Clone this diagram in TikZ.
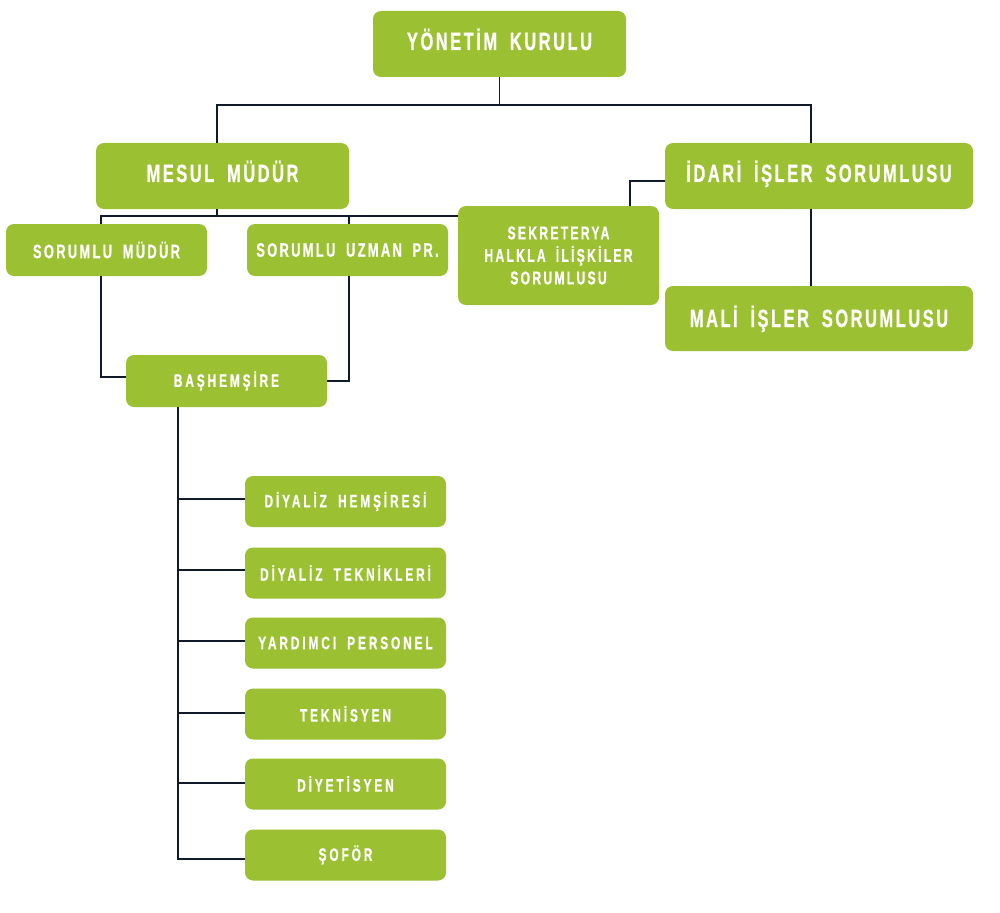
\documentclass[tikz,border=0pt]{standalone}
\usepackage{fontspec}
\newfontfamily\bigfont{Liberation Sans}[FakeStretch=0.66,LetterSpace=10,WordSpace=1.8,FakeBold=0.8]
\newfontfamily\midfont{Liberation Sans}[FakeStretch=0.66,LetterSpace=12,WordSpace=1.8,FakeBold=0.8]
\newfontfamily\smallfont{Liberation Sans}[FakeStretch=0.66,LetterSpace=16,WordSpace=1.8,FakeBold=0.8]
\usetikzlibrary{calc}
\definecolor{boxgreen}{HTML}{9BC031}
\definecolor{linecol}{HTML}{111A2A}
\tikzset{
  gbox/.style={fill=boxgreen, draw=none, rounded corners=8pt, inner sep=0pt,
    text=white, align=center},
  bigbox/.style={gbox, minimum width=253pt, minimum height=66pt, text height=17pt, text depth=5pt, font=\bigfont\bfseries\fontsize{25}{30}\selectfont},
  widebox/.style={gbox, minimum width=308pt, minimum height=66pt, text height=17pt, text depth=5pt, font=\bigfont\bfseries\fontsize{25}{30}\selectfont},
  midbox/.style={gbox, minimum width=201pt, minimum height=52pt, font=\midfont\bfseries\fontsize{19.5}{22.5}\selectfont},
  smallbox/.style={gbox, minimum width=201pt, minimum height=51pt, font=\smallfont\bfseries\fontsize{18}{22}\selectfont},
  conn/.style={draw=linecol, line width=1.1pt}
}
\begin{document}
\begin{tikzpicture}[x=1pt, y=-1pt]
\useasboundingbox[fill=white] (0,0) rectangle (1000,912);
% nodes
\node[bigbox] (yk) at (499.5,44) {YÖNETİM KURULU};
\node[bigbox] (mm) at (222.5,176) {MESUL MÜDÜR};
\node[widebox] (idari) at (819,176) {İDARİ İŞLER SORUMLUSU};
\node[midbox] (sm) at (106.5,250) {SORUMLU MÜDÜR};
\node[midbox] (su) at (347.5,250) {SORUMLU UZMAN PR.};
\node[midbox, minimum height=99pt, font=\midfont\bfseries\fontsize{18.5}{22.5}\selectfont] (sek) at (558.5,255.5) {SEKRETERYA\\HALKLA İLİŞKİLER\\SORUMLUSU};
\node[widebox, minimum height=65pt, text depth=0pt] (mali) at (819,318.5) {MALİ İŞLER SORUMLUSU};
\node[smallbox, minimum height=52pt] (bas) at (226.5,381) {BAŞHEMŞİRE};
\node[smallbox] (c1) at (345.5,501.5) {DİYALİZ HEMŞİRESİ};
\node[smallbox] (c2) at (345.5,573) {DİYALİZ TEKNİKLERİ};
\node[smallbox] (c3) at (345.5,643) {YARDIMCI PERSONEL};
\node[smallbox] (c4) at (345.5,714) {TEKNİSYEN};
\node[smallbox] (c5) at (345.5,784) {DİYETİSYEN};
\node[smallbox] (c6) at (345.5,855) {ŞOFÖR};
% buses
\coordinate (bus1) at (0,105);
\coordinate (bus2) at (0,216);
% connectors
\draw[conn] (yk.south) -- (yk.south |- bus1);
\draw[conn] ([xshift=-5.5pt]mm.north) |- ([xshift=-8pt]idari.north |- bus1) -- ([xshift=-8pt]idari.north);
\draw[conn] ([xshift=-5.5pt]mm.south) -- ([xshift=-5.5pt]mm.south |- bus2);
\draw[conn] ([xshift=-5.5pt]sm.north) |- (bus2 -| sek.west);
\draw[conn] ([xshift=1.5pt]su.north) -- ([xshift=1.5pt]su.north |- bus2);
\draw[conn] ([xshift=71.5pt]sek.north) |- ([yshift=-5pt]idari.west);
\draw[conn] ([xshift=-8pt]idari.south) -- ([xshift=-8pt]mali.north);
\draw[conn] ([xshift=-5.5pt]sm.south) |- ([yshift=4pt]bas.west);
\draw[conn] ([xshift=1.5pt]su.south) |- (bas.east);
\coordinate (sp) at ([xshift=-48.5pt]bas.south);
\draw[conn] ([yshift=-4pt]c6.west) -| (sp);
\draw[conn] ([yshift=2.5pt]c1.west) -| (sp);
\draw[conn] ([yshift=3pt]c2.west) -| (sp);
\draw[conn] ([yshift=2pt]c3.west) -| (sp);
\draw[conn] ([yshift=1pt]c4.west) -| (sp);
\draw[conn] ([yshift=1pt]c5.west) -| (sp);
\end{tikzpicture}
\end{document}
